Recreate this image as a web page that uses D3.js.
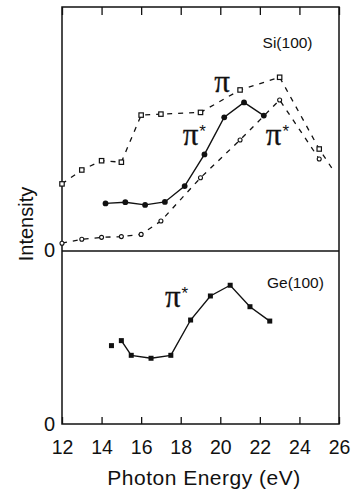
<!DOCTYPE html>
<html>
<head>
<meta charset="utf-8">
<script src="https://cdn.jsdelivr.net/npm/d3@7"></script>
<style>
body{margin:0;background:#fff}
svg{display:block}
.lbl{font-family:"Liberation Sans",Arial,sans-serif;fill:#111}
.greek{font-family:"Liberation Serif","Times New Roman",serif;fill:#111}
</style>
</head>
<body>
<div id="chart"></div>
<script>
var energyTicks=[12,14,16,18,20,22,24,26]

// Si(100), open squares (pi)
var piE=[12,13,14,15,16,17,19,21,23,25]
var piV=[27.5,33.2,37.0,36.4,55.7,56.1,56.8,66.0,71.2,41.8]
var piTailE=[25,25.7]
var piTailV=[41.8,33.2]
// Si(100), open circles (pi* dashed)
var circE=[12,13,14,15,16,17,19,21,23,25]
var circV=[3.2,4.8,5.6,5.9,6.8,12.3,30.0,45.5,61.9,37.7]
// Si(100), filled circles (pi* solid)
var dotE=[14.2,15.2,16.2,17.2,18.2,19.2,20.2,21.2,22.2]
var dotV=[19.5,20.0,18.9,20.1,26.6,39.6,54.8,60.9,55.5]
// Ge(100), filled squares
var geE=[14.5,15,15.5,16.5,17.5,18.5,19.5,20.5,21.5,22.5]
var geV=[45.3,48.2,39.7,38.0,39.7,60.1,74.0,80.2,67.8,59.5]

var W=355, H=492
var pLeft=62, pRight=339, pTop=7, pMid=251, pBottom=424
var ink="#111"

var svg=d3.select("#chart").append("svg").attr("width",W).attr("height",H)
svg.append("rect").attr("width",W).attr("height",H).attr("fill","#fff")

var x=d3.scaleLinear().domain([12,26]).range([pLeft,pRight])
var yTop=d3.scaleLinear().domain([0,100]).range([pMid,pTop])
var yBot=d3.scaleLinear().domain([0,100]).range([pBottom,pMid])

function pts(es,vs){ return es.map(function(e,i){return [e,vs[i]]}) }

// frame + divider
svg.append("rect").attr("x",pLeft).attr("y",pTop).attr("width",pRight-pLeft).attr("height",pBottom-pTop)
	.attr("fill","none").attr("stroke",ink).attr("stroke-width",1.5)
svg.append("line").attr("x1",pLeft).attr("x2",pRight).attr("y1",pMid).attr("y2",pMid)
	.attr("stroke",ink).attr("stroke-width",1.5)

// ticks on top edge (inward) and bottom axis with labels
var topAxis=svg.append("g").attr("transform","translate(0,"+pTop+")")
	.call(d3.axisTop(x).tickValues(energyTicks).tickSize(-8).tickFormat(""))
var botAxis=svg.append("g").attr("transform","translate(0,"+pBottom+")")
	.call(d3.axisBottom(x).tickValues(energyTicks).tickSize(-7).tickPadding(16))
svg.selectAll(".domain").remove()
svg.selectAll(".tick line").attr("stroke",ink).attr("stroke-width",1.3)
botAxis.selectAll(".tick text").attr("class","lbl").style("font-size","19.5px")
	.style("font-family",'"Liberation Sans",Arial,sans-serif').attr("fill",ink)

// y zero labels
svg.append("text").attr("class","lbl").attr("x",pLeft-7).attr("y",yTop(0)).attr("dy","0.3em")
	.attr("text-anchor","end").style("font-size","20px").text("0")
svg.append("text").attr("class","lbl").attr("x",pLeft-7).attr("y",yBot(0)).attr("dy","0.35em")
	.attr("text-anchor","end").style("font-size","20px").text("0")

svg.append("text").attr("class","lbl").style("font-size","20px").attr("text-anchor","middle")
	.attr("transform","translate(33,224) rotate(-90)").text("Intensity")
svg.append("text").attr("class","lbl").style("font-size","21px").style("letter-spacing","0.5px")
	.attr("text-anchor","middle").attr("x",204).attr("y",485).text("Photon Energy (eV)")

var line=d3.line().x(function(d){return x(d[0])})

// Si panel lines
svg.append("path").datum(pts(piE,piV).concat(pts(piTailE,piTailV).slice(1)))
	.attr("d",line.y(function(d){return yTop(d[1])}))
	.attr("fill","none").attr("stroke",ink).attr("stroke-width",1.3).attr("stroke-dasharray","5,6")
svg.append("path").datum(pts(circE,circV))
	.attr("d",line.y(function(d){return yTop(d[1])}))
	.attr("fill","none").attr("stroke",ink).attr("stroke-width",1.3).attr("stroke-dasharray","5,6")
svg.append("path").datum(pts(dotE,dotV))
	.attr("d",line.y(function(d){return yTop(d[1])}))
	.attr("fill","none").attr("stroke",ink).attr("stroke-width",1.4)

// Ge panel line (first point stands alone)
svg.append("path").datum(pts(geE,geV).slice(1))
	.attr("d",line.y(function(d){return yBot(d[1])}))
	.attr("fill","none").attr("stroke",ink).attr("stroke-width",1.4)

// markers
svg.append("g").selectAll("rect").data(pts(piE,piV)).join("rect")
	.attr("x",function(d){return x(d[0])-2.2}).attr("y",function(d){return yTop(d[1])-2.2})
	.attr("width",4.4).attr("height",4.4).attr("fill","#fff").attr("stroke",ink).attr("stroke-width",1.2)
svg.append("g").selectAll("circle").data(pts(circE,circV)).join("circle")
	.attr("cx",function(d){return x(d[0])}).attr("cy",function(d){return yTop(d[1])})
	.attr("r",2).attr("fill","#fff").attr("stroke",ink).attr("stroke-width",1.1)
svg.append("g").selectAll("circle").data(pts(dotE,dotV)).join("circle")
	.attr("cx",function(d){return x(d[0])}).attr("cy",function(d){return yTop(d[1])})
	.attr("r",2.9).attr("fill",ink)
svg.append("g").selectAll("rect").data(pts(geE,geV)).join("rect")
	.attr("x",function(d){return x(d[0])-2.5}).attr("y",function(d){return yBot(d[1])-2.5})
	.attr("width",5).attr("height",5).attr("fill",ink)

// panel names
svg.append("text").attr("class","lbl").style("font-size","15.5px").attr("text-anchor","middle")
	.attr("x",x(23.4)).attr("y",yTop(83.2)).text("Si(100)")
svg.append("text").attr("class","lbl").style("font-size","15.5px").attr("text-anchor","middle")
	.attr("x",x(23.8)).attr("y",yBot(78.6)).text("Ge(100)")

// pi labels
var piLabels=[{e:19.7,v:65.2,s:"",p:yTop},{e:18.1,v:43.4,s:"*",p:yTop},{e:22.3,v:43.4,s:"*",p:yTop},{e:17.2,v:67.6,s:"*",p:yBot}]
for (var i in piLabels){
	var L=piLabels[i]
	var t=svg.append("text").attr("class","greek").style("font-size","31px")
		.attr("x",x(L.e)).attr("y",L.p(L.v))
	t.append("tspan").attr("stroke",ink).attr("stroke-width",0.3).text("\u03c0")
	if (L.s) t.append("tspan").attr("dy","-0.45em").attr("dx","1")
		.style("font-family",'"Liberation Sans",Arial,sans-serif').style("font-size","17px")
		.attr("fill",ink).text(L.s)
}
</script>
</body>
</html>
